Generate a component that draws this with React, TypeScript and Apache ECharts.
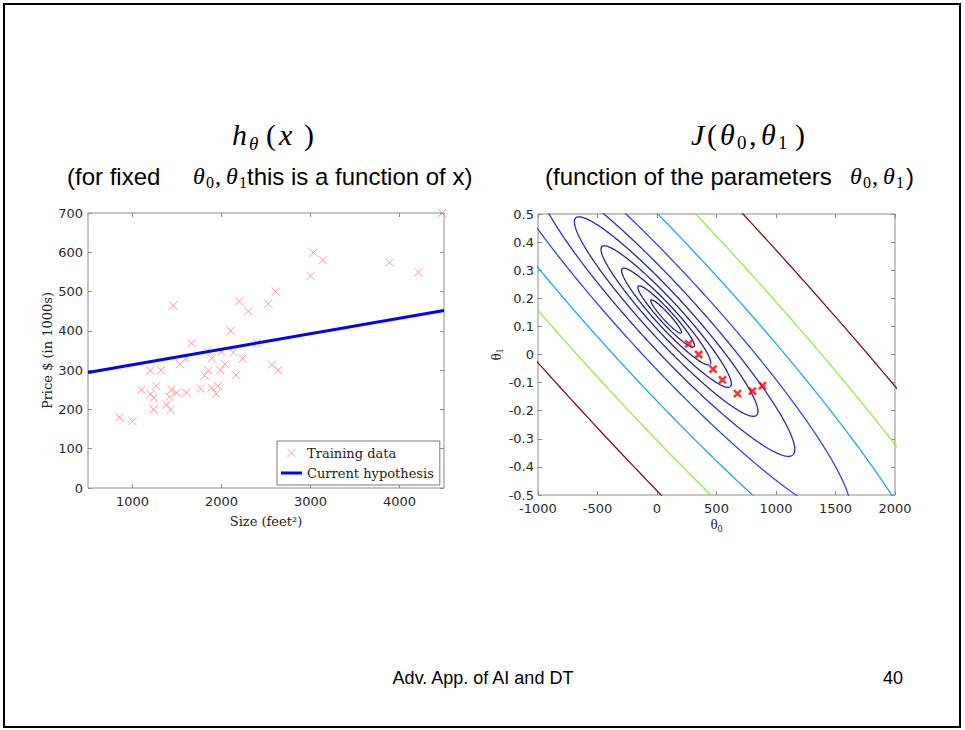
import React, { useEffect, useRef } from "react";
import * as echarts from "echarts";

// ---------- Left panel: training data (size in feet^2, price in $1000s)
const houseSizes = [2104, 1600, 2400, 1416, 3000, 1985, 1534, 1427, 1380, 1494, 1940, 2000, 1890, 4478, 1268, 2300, 1320, 1236, 2609, 3031, 1767, 1888, 1604, 1962, 3890, 1100, 1458, 2526, 2200, 2637, 1839, 1000, 2040, 3137, 1811, 1437, 1239, 2132, 4215, 2162, 1664, 2238, 2567, 1200, 852, 1852, 1203];
const housePrices = [399.9, 329.9, 369, 232, 539.9, 299.9, 314.9, 199, 212, 242.5, 240, 347, 330, 699.9, 259.9, 449.9, 299.9, 199.9, 500, 599, 252.9, 255, 242.9, 259.9, 573.9, 249.9, 464.5, 469, 475, 299.9, 349.9, 169.9, 314.9, 579.9, 285.9, 249.9, 229.9, 345, 549, 287, 368.5, 329.9, 314, 299, 179.9, 299.9, 239.5];
const hypothesisSizes = [500, 4500];
const hypothesisPrices = [294, 452];
const sizeTicks = [1000, 2000, 3000, 4000];

// ---------- Right panel: cost contours J(theta0, theta1) and descent steps
const descentTheta0 = [886, 802, 676, 550, 471, 350, 266];
const descentTheta1 = [-0.111, -0.13, -0.139, -0.09, -0.052, 0.0, 0.038];
const contourCenterTheta0 = 77;
const contourCenterTheta1 = 0.135;
const contourSemiMinor = [0.0128, 0.0235, 0.037, 0.0541, 0.0762, 0.1068, 0.153, 0.2295, 0.3256, 0.4484];
const contourAspect = 6.25;
const contourTiltDeg = 47.5;
const contourColors = ["#202088", "#20208e", "#212194", "#22229c", "#2324a8", "#2630c2", "#2f48e6", "#1ea8f2", "#94ec4c", "#7a1616"];

const T0_MIN = -1000, T0_MAX = 2000, T1_MIN = -0.5, T1_MAX = 0.5;
const leftGrid = { left: 88, top: 213, width: 356, height: 275 };
const rightGrid = { left: 538, top: 214, width: 357, height: 281 };

const XPATH = "path://M0,0L10,10M10,0L0,10";
const LINE_ICON = "path://M0,0L21,0L21,3L0,3Z";
const AXIS_GREY = "#8c8c8c";
const LABEL = { fontFamily: "DejaVu Sans", fontSize: 13, color: "#2a2a2a" };
const plain = (v: number) => String(Math.round(v * 1000) / 1000);

function contourPoints(semiMinor: number) {
  // screen-square scaling between theta0 and theta1 units
  const ratio = ((T0_MAX - T0_MIN) / rightGrid.width) * (rightGrid.height / (T1_MAX - T1_MIN));
  const phi = (contourTiltDeg * Math.PI) / 180;
  const a = semiMinor * contourAspect;
  const b = semiMinor;
  const pts: number[][] = [];
  for (let k = 0; k <= 720; k++) {
    const t = (k * Math.PI) / 360;
    const du = a * Math.cos(t);
    const dv = b * Math.sin(t);
    const X = du * Math.cos(phi) + dv * Math.sin(phi);
    const Y = -du * Math.sin(phi) + dv * Math.cos(phi);
    pts.push([contourCenterTheta0 + X * ratio, contourCenterTheta1 + Y]);
  }
  return pts;
}

const SERIF = "Liberation Serif";
const SANS = "Liberation Sans";

function txt(x: number, y: number, text: string, size: number, family: string, extra: any = {}) {
  const style: any = {
    text,
    fill: extra.color || "#000",
    align: extra.align || "left",
    textAlign: extra.align || "left",
    verticalAlign: "middle",
    textVerticalAlign: "middle",
  };
  if (extra.italic) {
    style.font = `italic ${size}px 'Liberation Serif', serif`;
  } else {
    style.fontSize = size;
    style.fontFamily = family;
  }
  return { type: "text", x, y, silent: true, style };
}

export default function App() {
  const ref = useRef<HTMLDivElement>(null);
  useEffect(() => {
    if (!ref.current) return;
    const chart = echarts.init(ref.current, undefined, { renderer: "svg" });

    const noLine = { show: false, onZero: false };
    const mirrorX = (gridIndex: number, min: number, max: number, extra: any) => ({
      gridIndex, type: "value", position: "top", min, max, ...extra,
      axisLine: noLine, axisLabel: { show: false }, splitLine: { show: false },
    });
    const mirrorY = (gridIndex: number, min: number, max: number, extra: any) => ({
      gridIndex, type: "value", position: "right", min, max, ...extra,
      axisLine: noLine, axisLabel: { show: false }, splitLine: { show: false },
    });
    const tick = { inside: true, length: 4, lineStyle: { color: AXIS_GREY } };
    const thetaRich = {
      t: { fontFamily: SERIF, fontSize: 15, color: "#222", lineHeight: 18, verticalAlign: "middle" },
      s: { fontFamily: SERIF, fontSize: 10, color: "#222", lineHeight: 18, verticalAlign: "bottom" },
    };

    const contourSeries = contourSemiMinor.map((b, i) => ({
      type: "line",
      xAxisIndex: 2,
      yAxisIndex: 2,
      data: contourPoints(b),
      symbol: "none",
      showSymbol: false,
      clip: true,
      silent: true,
      lineStyle: { color: contourColors[i], width: 1.3 },
      z: 2,
    }));

    chart.setOption({
      animation: false,
      backgroundColor: "#ffffff",
      grid: [
        { ...leftGrid, show: true, borderColor: AXIS_GREY, borderWidth: 1, containLabel: false },
        { ...rightGrid, show: true, borderColor: AXIS_GREY, borderWidth: 1, containLabel: false },
      ],
      xAxis: [
        {
          gridIndex: 0, type: "value", min: 500, max: 4500, position: "bottom",
          axisLine: noLine,
          axisTick: { ...tick, customValues: sizeTicks },
          axisLabel: { ...LABEL, margin: 7, customValues: sizeTicks, formatter: plain },
          splitLine: { show: false },
          name: "Size (feet²)", nameLocation: "middle", nameGap: 27,
          nameTextStyle: { fontFamily: "DejaVu Serif", fontSize: 13, color: "#222" },
        },
        mirrorX(0, 500, 4500, { axisTick: { ...tick, customValues: sizeTicks } }),
        {
          gridIndex: 1, type: "value", min: T0_MIN, max: T0_MAX, interval: 500, position: "bottom",
          axisLine: noLine,
          axisTick: tick,
          axisLabel: { ...LABEL, margin: 7, formatter: plain },
          splitLine: { show: false },
          name: "{t|θ}{s|0}", nameLocation: "middle", nameGap: 20,
          nameTextStyle: { rich: thetaRich },
        },
        mirrorX(1, T0_MIN, T0_MAX, { interval: 500, axisTick: tick }),
      ],
      yAxis: [
        {
          gridIndex: 0, type: "value", min: 0, max: 700, interval: 100, position: "left",
          axisLine: noLine,
          axisTick: tick,
          axisLabel: { ...LABEL, margin: 5, formatter: plain },
          splitLine: { show: false },
          name: "Price $ (in 1000s)", nameLocation: "middle", nameGap: 33,
          nameTextStyle: { fontFamily: "DejaVu Serif", fontSize: 13, color: "#222" },
        },
        mirrorY(0, 0, 700, { interval: 100, axisTick: tick }),
        {
          gridIndex: 1, type: "value", min: T1_MIN, max: T1_MAX, interval: 0.1, position: "left",
          axisLine: noLine,
          axisTick: tick,
          axisLabel: { ...LABEL, margin: 4, formatter: plain },
          splitLine: { show: false },
          name: "{t|θ}{s|1}", nameLocation: "middle", nameGap: 31,
          nameTextStyle: { rich: thetaRich },
        },
        mirrorY(1, T1_MIN, T1_MAX, { interval: 0.1, axisTick: tick }),
      ],
      legend: {
        left: 277, top: 441, orient: "vertical",
        backgroundColor: "#fff", borderColor: "#7a7a7a", borderWidth: 1,
        padding: [5, 6, 5, 4], itemGap: 6, itemWidth: 21, itemHeight: 8,
        textStyle: { fontFamily: "DejaVu Serif", fontSize: 13, lineHeight: 14, color: "#222" },
        data: [
          { name: "Training data", icon: XPATH, itemStyle: { color: "rgba(0,0,0,0)", borderColor: "#ff8080", borderWidth: 1 } },
          { name: "Current hypothesis", icon: LINE_ICON, itemStyle: { color: "#0000ff", borderWidth: 0 } },
        ],
      },
      series: [
        {
          name: "Training data", type: "scatter", xAxisIndex: 0, yAxisIndex: 0,
          data: houseSizes.map((s, i) => [s, housePrices[i]]),
          symbol: XPATH, symbolSize: 8,
          itemStyle: { color: "rgba(0,0,0,0)", borderColor: "#ff8080", borderWidth: 1 },
          silent: true, z: 3,
        },
        {
          name: "Current hypothesis", type: "line", xAxisIndex: 0, yAxisIndex: 0,
          data: hypothesisSizes.map((s, i) => [s, hypothesisPrices[i]]),
          symbol: "none", showSymbol: false,
          lineStyle: { color: "#0000ff", width: 3 }, itemStyle: { color: "#0000ff" },
          silent: true, z: 4,
        },
        ...contourSeries,
        {
          name: "Descent steps", type: "scatter", xAxisIndex: 2, yAxisIndex: 2,
          data: descentTheta0.map((t, i) => [t, descentTheta1[i]]),
          symbol: XPATH, symbolSize: 7,
          itemStyle: { color: "rgba(0,0,0,0)", borderColor: "#ff0000", borderWidth: 2.5 },
          silent: true, z: 5,
        },
      ],
      graphic: {
        elements: [
          { type: "rect", shape: { x: 4, y: 4, width: 956, height: 723 }, style: { fill: "none", stroke: "#000", lineWidth: 2 }, silent: true },
          // left title h_theta(x)
          txt(232, 134, "h", 30, SERIF, { italic: true }),
          txt(249, 143, "θ", 19, SERIF, { italic: true }),
          txt(266, 134, "(", 30, SERIF),
          txt(279, 134, "x", 30, SERIF, { italic: true }),
          txt(304, 134, ")", 30, SERIF),
          // left subtitle
          txt(67, 176, "(for fixed", 24, SANS),
          txt(193, 176, "θ", 24, SERIF, { italic: true }),
          txt(206, 182, "0", 16, SERIF),
          txt(215, 176, ",", 24, SERIF),
          txt(226, 176, "θ", 24, SERIF, { italic: true }),
          txt(239, 182, "1", 16, SERIF),
          txt(247, 176, "this is a function of x)", 24, SANS),
          // right title J(theta0, theta1)
          txt(691, 134, "J", 30, SERIF, { italic: true }),
          txt(707, 134, "(", 30, SERIF),
          txt(720, 134, "θ", 30, SERIF, { italic: true }),
          txt(737, 142, "0", 19, SERIF),
          txt(749, 134, ",", 30, SERIF),
          txt(761, 134, "θ", 30, SERIF, { italic: true }),
          txt(778, 142, "1", 19, SERIF),
          txt(795, 134, ")", 30, SERIF),
          // right subtitle
          txt(545, 176, "(function of the parameters", 24, SANS),
          txt(850, 176, "θ", 24, SERIF, { italic: true }),
          txt(863, 182, "0", 16, SERIF),
          txt(872, 176, ",", 24, SERIF),
          txt(883, 176, "θ", 24, SERIF, { italic: true }),
          txt(896, 182, "1", 16, SERIF),
          txt(906, 176, ")", 24, SANS),
          // footer
          txt(483, 678, "Adv. App. of AI and DT", 18, SANS, { align: "center" }),
          txt(893, 678, "40", 18, SANS, { align: "center" }),
        ],
      },
    });
    return () => chart.dispose();
  }, []);

  return <div ref={ref} style={{ position: "absolute", left: 0, top: 0, width: 965, height: 730 }} />;
}
